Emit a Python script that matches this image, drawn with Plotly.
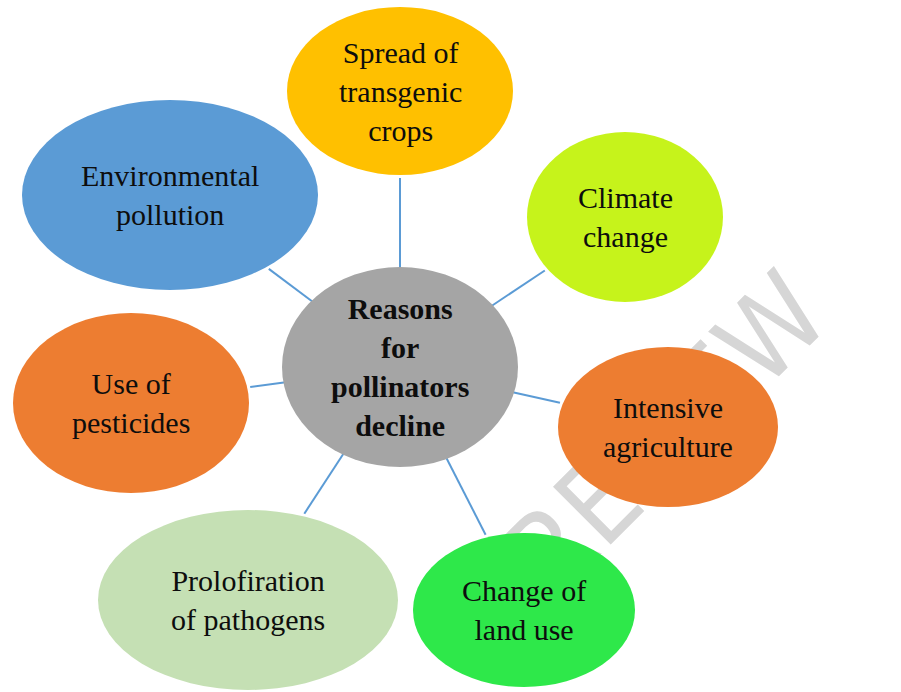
import numpy as np
import plotly.graph_objects as go

# ---- content ----
CENTER_LABEL = "Reasons<br>for<br>pollinators<br>decline"
NODE_LABELS = [
    "Spread of<br>transgenic<br>crops",
    "Climate<br>change",
    "Intensive<br>agriculture",
    "Change of<br>land use",
    "Prolofiration<br>of pathogens",
    "Use of<br>pesticides",
    "Environmental<br>pollution",
]
WATERMARK = "PREVIEW"

# ---- layout (pixel space of the diagram) ----
CENTER_XY = (400, 367)
CENTER_R = (118, 100)
NODE_X = [400, 625, 668, 524, 248, 131, 170]
NODE_Y = [91, 217, 427, 610, 600, 403, 195]
NODE_RX = [113, 98, 110, 111, 150, 118, 148]
NODE_RY = [84, 85, 80, 77, 90, 90, 95]
WATERMARK_XY = (645, 455)

# ---- styles ----
CENTER_COLOR = "#A5A5A5"
NODE_COLORS = ["#FFC000", "#C6F31B", "#ED7D31", "#2EE84A", "#C5E0B4", "#ED7D31", "#5B9BD5"]
LINK_COLOR = "#5B9BD5"
FONT = "Liberation Serif, Times New Roman, serif"

W, H = 901, 692
fig = go.Figure()

# watermark (drawn under the shapes)
fig.add_trace(go.Bar(
    x=[WATERMARK_XY[0]], y=[20], base=[WATERMARK_XY[1] - 10], width=[1],
    marker=dict(color="rgba(0,0,0,0)", line=dict(width=0)),
    text=[WATERMARK], textposition="inside", insidetextanchor="middle",
    constraintext="none", textangle=-45, cliponaxis=False,
    textfont=dict(family="Liberation Sans Narrow, Arial Narrow, DejaVu Sans Condensed, Liberation Sans, sans-serif",
                  size=112, color="#d6d6d6"),
    hoverinfo="skip", showlegend=False,
))

shapes = []
cx, cy = CENTER_XY
RX, RY = CENTER_R
gap = 3
for nx, ny, rx, ry in zip(NODE_X, NODE_Y, NODE_RX, NODE_RY):
    d = np.array([nx - cx, ny - cy], dtype=float)
    u = d / np.hypot(*d)
    t = 1.0 / np.sqrt((u[0] / RX) ** 2 + (u[1] / RY) ** 2)
    s = 1.0 / np.sqrt((u[0] / rx) ** 2 + (u[1] / ry) ** 2) + gap
    p0 = (cx + u[0] * (t - 6), cy + u[1] * (t - 6))
    p1 = (nx - u[0] * s, ny - u[1] * s)
    shapes.append(dict(type="line", xref="x", yref="y", x0=p0[0], y0=p0[1], x1=p1[0], y1=p1[1],
                       line=dict(color=LINK_COLOR, width=2), layer="above"))

for nx, ny, rx, ry, col in zip(NODE_X, NODE_Y, NODE_RX, NODE_RY, NODE_COLORS):
    shapes.append(dict(type="circle", xref="x", yref="y", x0=nx - rx, x1=nx + rx, y0=ny - ry, y1=ny + ry,
                       fillcolor=col, line=dict(width=0), layer="above"))
shapes.append(dict(type="circle", xref="x", yref="y", x0=cx - RX, x1=cx + RX, y0=cy - RY, y1=cy + RY,
                   fillcolor=CENTER_COLOR, line=dict(width=0), layer="above"))

annotations = []
for nx, ny, lab in zip(NODE_X, NODE_Y, NODE_LABELS):
    annotations.append(dict(x=nx, y=ny, xref="x", yref="y", text=lab, showarrow=False,
                            xanchor="center", yanchor="middle", align="center",
                            font=dict(family=FONT, size=30, color="#0d0d0d")))
annotations.append(dict(x=cx, y=cy, xref="x", yref="y",
                        text="<b>" + CENTER_LABEL.replace("<br>", "</b><br><b>") + "</b>",
                        showarrow=False, xanchor="center", yanchor="middle", align="center",
                        font=dict(family=FONT, size=30, color="#0d0d0d")))

fig.update_layout(
    width=W, height=H, margin=dict(l=0, r=0, t=0, b=0),
    paper_bgcolor="white", plot_bgcolor="white",
    xaxis=dict(range=[0, W], visible=False, fixedrange=True),
    yaxis=dict(range=[H, 0], visible=False, fixedrange=True),
    shapes=shapes, annotations=annotations, showlegend=False,
)
fig.write_html("out.html", config={"displayModeBar": False},
               post_script="document.body.style.margin='0px';document.body.style.overflow='hidden';")
